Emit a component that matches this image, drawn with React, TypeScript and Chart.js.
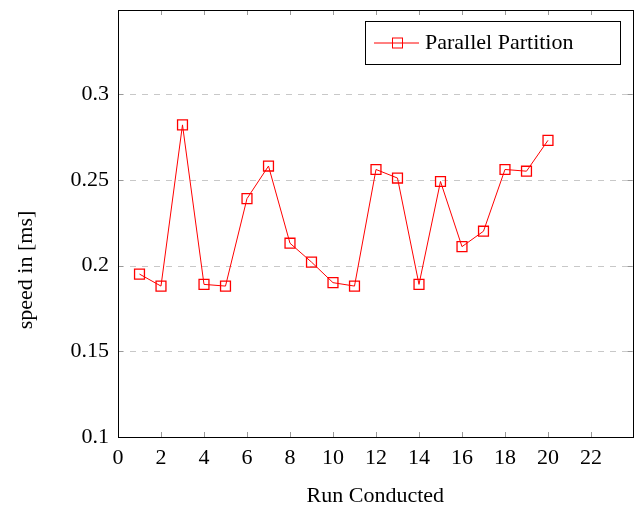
import React, { useEffect, useRef } from "react";
import { Chart, registerables } from "chart.js";

Chart.register(...registerables);

const runs = [1, 2, 3, 4, 5, 6, 7, 8, 9, 10, 11, 12, 13, 14, 15, 16, 17, 18, 19, 20];
const speeds = [0.195, 0.188, 0.282, 0.189, 0.188, 0.239, 0.258, 0.213, 0.202, 0.19, 0.188, 0.256, 0.251, 0.189, 0.249, 0.211, 0.22, 0.256, 0.255, 0.273];
const xTicks = [0, 2, 4, 6, 8, 10, 12, 14, 16, 18, 20, 22];
const yTicks = [0.1, 0.15, 0.2, 0.25, 0.3];
const seriesName = "Parallel Partition";
const xTitle = "Run Conducted";
const yTitle = "speed in [ms]";

const FONT = "'Liberation Serif', 'DejaVu Serif', serif";
const RED = "#ff0000";

const framePlugin = {
  id: "frame",
  beforeDatasetsDraw(chart: any) {
    const { ctx, chartArea: a, scales } = chart;
    const ys = scales.y;
    ctx.save();
    ctx.strokeStyle = "#c8c8c8";
    ctx.lineWidth = 1;
    ctx.setLineDash([6, 6]);
    yTicks.forEach((v) => {
      if (v <= 0.1) return;
      const py = Math.round(ys.getPixelForValue(v)) + 0.5;
      ctx.beginPath();
      ctx.moveTo(a.left, py);
      ctx.lineTo(a.right, py);
      ctx.stroke();
    });
    ctx.restore();
  },
  afterDatasetsDraw(chart: any) {
    const { ctx, chartArea: a, scales } = chart;
    const xs = scales.x;
    const ys = scales.y;
    ctx.save();
    ctx.setLineDash([]);
    ctx.strokeStyle = "#999999";
    ctx.lineWidth = 1;
    const tl = 5;
    xTicks.forEach((v) => {
      const px = Math.round(xs.getPixelForValue(v)) + 0.5;
      if (v === 0) return;
      ctx.beginPath();
      ctx.moveTo(px, a.bottom);
      ctx.lineTo(px, a.bottom - tl);
      ctx.moveTo(px, a.top);
      ctx.lineTo(px, a.top + tl);
      ctx.stroke();
    });
    yTicks.forEach((v) => {
      if (v <= 0.1) return;
      const py = Math.round(ys.getPixelForValue(v)) + 0.5;
      ctx.beginPath();
      ctx.moveTo(a.left, py);
      ctx.lineTo(a.left + tl, py);
      ctx.moveTo(a.right, py);
      ctx.lineTo(a.right - tl, py);
      ctx.stroke();
    });
    ctx.strokeStyle = "#000000";
    ctx.lineWidth = 1;
    ctx.strokeRect(Math.round(a.left) + 0.5, Math.round(a.top) + 0.5, Math.round(a.right - a.left), Math.round(a.bottom - a.top));
    const lx = 365, ly = 21, lw = 255, lh = 43;
    ctx.fillStyle = "#ffffff";
    ctx.fillRect(lx, ly, lw, lh);
    ctx.strokeStyle = "#000000";
    ctx.strokeRect(lx + 0.5, ly + 0.5, lw, lh);
    const my = ly + lh / 2 + 0.5;
    ctx.strokeStyle = RED;
    ctx.beginPath();
    ctx.moveTo(374, my);
    ctx.lineTo(419, my);
    ctx.stroke();
    ctx.strokeRect(392.5, my - 5, 10, 10);
    ctx.fillStyle = "#000000";
    ctx.font = `22px ${FONT}`;
    ctx.textBaseline = "middle";
    ctx.textAlign = "left";
    ctx.fillText(seriesName, 425, my);
    ctx.font = `22px ${FONT}`;
    ctx.textAlign = "center";
    ctx.fillText(xTitle, (a.left + a.right) / 2, 496);
    ctx.translate(26, 270);
    ctx.rotate(-Math.PI / 2);
    ctx.fillText(yTitle, 0, 0);
    ctx.restore();
  },
};

export default function App() {
  const ref = useRef<HTMLCanvasElement>(null);
  useEffect(() => {
    document.body.style.margin = "0";
    const canvas = ref.current!;
    const chart = new Chart(canvas, {
      type: "line",
      data: {
        datasets: [
          {
            label: seriesName,
            data: runs.map((r, i) => ({ x: r, y: speeds[i] })),
            borderColor: RED,
            backgroundColor: "rgba(0,0,0,0)",
            borderWidth: 1,
            pointStyle: "rect",
            pointRadius: 7,
            pointBorderWidth: 1.3,
            pointBorderColor: RED,
            pointBackgroundColor: "rgba(0,0,0,0)",
            tension: 0,
          },
        ],
      },
      options: {
        animation: false,
        responsive: false,
        layout: { padding: { left: 0, right: -1, top: 10, bottom: 0 } },
        plugins: { legend: { display: false }, tooltip: { enabled: false } },
        scales: {
          x: {
            type: "linear",
            min: 0,
            max: 23.94,
            afterBuildTicks: (s: any) => {
              s.ticks = xTicks.map((v) => ({ value: v }));
            },
            afterFit: (s: any) => {
              s.height = 76;
              s.paddingLeft = 0;
              s.paddingRight = 0;
            },
            grid: { display: false, drawTicks: false },
            border: { display: false },
            ticks: {
              padding: 8,
              color: "#000",
              font: { family: FONT, size: 22 },
              maxRotation: 0,
              callback: (v: any) => String(v),
            },
          },
          y: {
            type: "linear",
            min: 0.1,
            max: 0.349,
            afterBuildTicks: (s: any) => {
              s.ticks = yTicks.map((v) => ({ value: v }));
            },
            afterFit: (s: any) => {
              s.width = 118;
              s.paddingTop = 0;
              s.paddingBottom = 0;
            },
            grid: { display: false, drawTicks: false },
            border: { display: false },
            ticks: {
              padding: 9,
              color: "#000",
              font: { family: FONT, size: 22 },
              callback: (v: any) => String(Math.round(v * 100) / 100),
            },
          },
        },
      },
      plugins: [framePlugin],
    } as any);
    return () => chart.destroy();
  }, []);
  return <canvas ref={ref} width={641} height={513} style={{ display: "block" }} />;
}
